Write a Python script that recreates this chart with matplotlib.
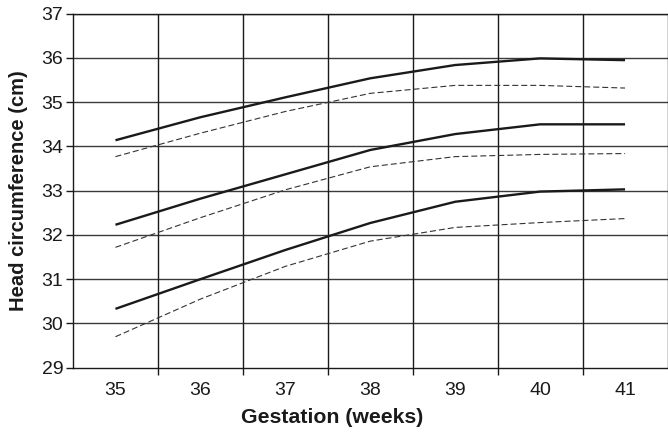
import matplotlib
matplotlib.use("Agg")
import matplotlib.pyplot as plt
import numpy as np

weeks = ["35", "36", "37", "38", "39", "40", "41"]
upper_solid = [34.14, 34.66, 35.11, 35.54, 35.84, 35.99, 35.95]
upper_dashed = [33.77, 34.30, 34.79, 35.20, 35.38, 35.38, 35.32]
middle_solid = [32.23, 32.82, 33.37, 33.92, 34.28, 34.50, 34.50]
middle_dashed = [31.72, 32.39, 33.02, 33.54, 33.77, 33.82, 33.84]
lower_solid = [30.33, 31.00, 31.66, 32.27, 32.75, 32.98, 33.03]
lower_dashed = [29.70, 30.55, 31.29, 31.86, 32.17, 32.28, 32.37]
y_ticks = [29, 30, 31, 32, 33, 34, 35, 36, 37]

plt.rcParams['font.family'] = ['Liberation Sans', 'DejaVu Sans']

fig = plt.figure(figsize=(6.68, 4.33), dpi=100)
ax = fig.add_axes([73/668, (433-367.7)/433, (667.5-73)/668, (367.7-13.7)/433])

x = np.arange(len(weeks))
for s in (upper_solid, middle_solid, lower_solid):
    ax.plot(x, s, color='#1a1a1a', lw=1.7, solid_capstyle='butt', zorder=3)
for d in (upper_dashed, middle_dashed, lower_dashed):
    ax.plot(x, d, color='#333333', lw=0.8, dashes=(5.4, 2.7), zorder=3)

ax.set_xlim(-0.5, len(weeks) - 0.5)
ax.set_ylim(29, 37)
ax.set_yticks(y_ticks)
ax.set_yticklabels([str(t) for t in y_ticks])
ax.set_xticks(x)
ax.set_xticklabels(weeks)
ax.tick_params(axis='x', which='major', length=0, labelsize=14, pad=10, colors='#1a1a1a')
ax.set_xticks(np.arange(len(weeks) - 1) + 0.5, minor=True)
ax.tick_params(axis='x', which='minor', length=5, width=1, color='#1a1a1a')
ax.tick_params(axis='y', length=5, width=1, labelsize=14, pad=2, colors='#1a1a1a')

for yv in y_ticks[1:]:
    ax.axhline(yv, color='#3a3a3a', lw=1.0, zorder=1)
for xv in np.arange(len(weeks) - 1) + 0.5:
    ax.axvline(xv, color='#1a1a1a', lw=1.0, zorder=1)

for sp in ax.spines.values():
    sp.set_color('#1a1a1a')
    sp.set_linewidth(1.0)

fig.text(332/668, (433-423)/433, 'Gestation (weeks)', fontsize=15.3, fontweight='bold',
         ha='center', va='baseline', color='#1a1a1a')
ax.set_ylabel('Head circumference (cm)', fontsize=14.5, fontweight='bold', labelpad=10, color='#1a1a1a')

fig.savefig('out.png', dpi=100)
